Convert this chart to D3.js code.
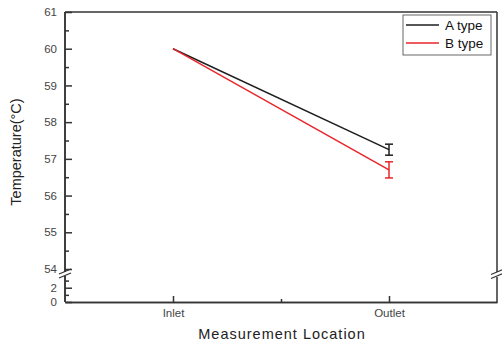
<!DOCTYPE html>
<html>
<head>
<meta charset="utf-8">
<script src="https://cdn.jsdelivr.net/npm/d3@7"></script>
<style>
  body { margin: 0; background: #fff; }
  svg { font-family: "Liberation Sans", Arial, sans-serif; }
</style>
</head>
<body>
<svg id="chart" width="502" height="343"></svg>
<script>
// data
const locations = ["Inlet", "Outlet"];
const seriesNames = ["A type", "B type"];
const aType = [60.0, 57.25];
const bType = [60.0, 56.7];
const aErr = [0, 0.15];
const bErr = [0, 0.22];
const upperTicks = [54, 55, 56, 57, 58, 59, 60, 61];
const lowerTicks = [0, 2];
const colors = ["#1e1e1e", "#e8262b"];

const plotL = 65, plotR = 497, plotT = 12, plotB = 302;
const svg = d3.select("#chart");

const x = d3.scaleLinear().domain([0.5, 2.5]).range([plotL, plotR]);
const yTop = d3.scaleLinear().domain([54, 61]).range([269, plotT]);
const yBot = d3.scaleLinear().domain([0, 3.5]).range([plotB, 277]);

const axisColor = "#333";

// frame: top + right side
svg.append("line").attr("x1", plotL).attr("x2", plotR).attr("y1", plotT).attr("y2", plotT)
  .attr("stroke", axisColor).attr("stroke-width", 1.5);
svg.append("line").attr("x1", plotR).attr("x2", plotR).attr("y1", plotT).attr("y2", plotB)
  .attr("stroke", axisColor).attr("stroke-width", 1.5);

// x axis
const xAxis = svg.append("g").attr("transform", `translate(0,${plotB})`)
  .call(d3.axisBottom(x).tickValues([1, 2]).tickSizeInner(-6).tickSizeOuter(0).tickPadding(7)
    .tickFormat((d, i) => locations[i]));
xAxis.append("g").call(d3.axisBottom(x).tickValues([1.5]).tickSizeInner(-3).tickSizeOuter(0).tickFormat(""));
xAxis.selectAll("path.domain").attr("stroke", axisColor).attr("stroke-width", 1.5);
xAxis.selectAll(".tick line").attr("stroke", axisColor).attr("stroke-width", 1.5);
xAxis.selectAll("text").attr("fill", "#444").style("font-size", "11.5px");

// y axis upper segment
const yA = svg.append("g").attr("transform", `translate(${plotL},0)`)
  .call(d3.axisLeft(yTop).tickValues(upperTicks).tickSizeInner(-7).tickSizeOuter(0).tickPadding(8).tickFormat(d3.format("d")));
yA.append("g").call(d3.axisLeft(yTop).tickValues(d3.range(54.5, 61, 1)).tickSizeInner(-4).tickSizeOuter(0).tickFormat(""));
// lower segment
const yB = svg.append("g").attr("transform", `translate(${plotL},0)`)
  .call(d3.axisLeft(yBot).tickValues(lowerTicks).tickSizeInner(-7).tickSizeOuter(0).tickPadding(8).tickFormat(d3.format("d")));
yB.append("g").call(d3.axisLeft(yBot).tickValues([1, 3]).tickSizeInner(-4).tickSizeOuter(0).tickFormat(""));

[yA, yB].forEach(g => {
  g.selectAll("path.domain").attr("stroke", axisColor).attr("stroke-width", 1.5);
  g.selectAll(".tick line").attr("stroke", axisColor).attr("stroke-width", 1.5);
  g.selectAll("text").attr("fill", "#444").style("font-size", "11.5px");
});
yA.selectAll("path.domain").attr("d", `M0,${plotT}V272`);
yB.selectAll("path.domain").attr("d", `M0,276V${plotB}`);

// break on right side
svg.append("rect").attr("x", plotR - 3).attr("y", 272).attr("width", 6).attr("height", 5).attr("fill", "#fff");
// break marks
[[plotL, 273.5], [plotR, 274]].forEach(([bx, by]) => {
  [-2, 2].forEach(o => {
    svg.append("line")
      .attr("x1", bx - 6).attr("y1", by + o + 2.5)
      .attr("x2", bx + 6).attr("y2", by + o - 2.5)
      .attr("stroke", axisColor).attr("stroke-width", 1.3);
  });
});

// series lines
const line = d3.line().x((d, i) => x(i + 1)).y(d => yTop(d));
const series = [aType, bType];
const errs = [aErr, bErr];

series.forEach((s, k) => {
  svg.append("path").datum(s).attr("d", line)
    .attr("fill", "none").attr("stroke", colors[k]).attr("stroke-width", 1.5);
  s.forEach((v, i) => {
    const e = errs[k][i];
    if (!e) return;
    const cx = x(i + 1);
    const g = svg.append("g").attr("stroke", colors[k]).attr("stroke-width", 1.5);
    g.append("line").attr("x1", cx).attr("x2", cx).attr("y1", yTop(v + e)).attr("y2", yTop(v - e));
    g.append("line").attr("x1", cx - 4).attr("x2", cx + 4).attr("y1", yTop(v + e)).attr("y2", yTop(v + e));
    g.append("line").attr("x1", cx - 4).attr("x2", cx + 4).attr("y1", yTop(v - e)).attr("y2", yTop(v - e));
  });
});

// legend
const lg = svg.append("g").attr("transform", "translate(403,15)");
lg.append("rect").attr("width", 88).attr("height", 40)
  .attr("fill", "#fff").attr("stroke", "#666").attr("stroke-width", 1);
seriesNames.forEach((n, i) => {
  const yy = 10 + i * 18;
  lg.append("line").attr("x1", 3).attr("x2", 36).attr("y1", yy).attr("y2", yy)
    .attr("stroke", colors[i]).attr("stroke-width", 1.5);
  lg.append("text").attr("x", 42).attr("y", yy + 5).text(n)
    .attr("fill", "#111").style("font-size", "13.5px");
});

// axis titles
svg.append("text").attr("transform", "translate(21,152) rotate(-90)")
  .attr("text-anchor", "middle").style("font-size", "14.5px").attr("fill", "#222")
  .text("Temperature(°C)");
svg.append("text").attr("x", 282).attr("y", 339)
  .attr("text-anchor", "middle").style("font-size", "14.5px").attr("fill", "#222")
  .style("letter-spacing", "1px")
  .text("Measurement Location");
</script>
</body>
</html>
